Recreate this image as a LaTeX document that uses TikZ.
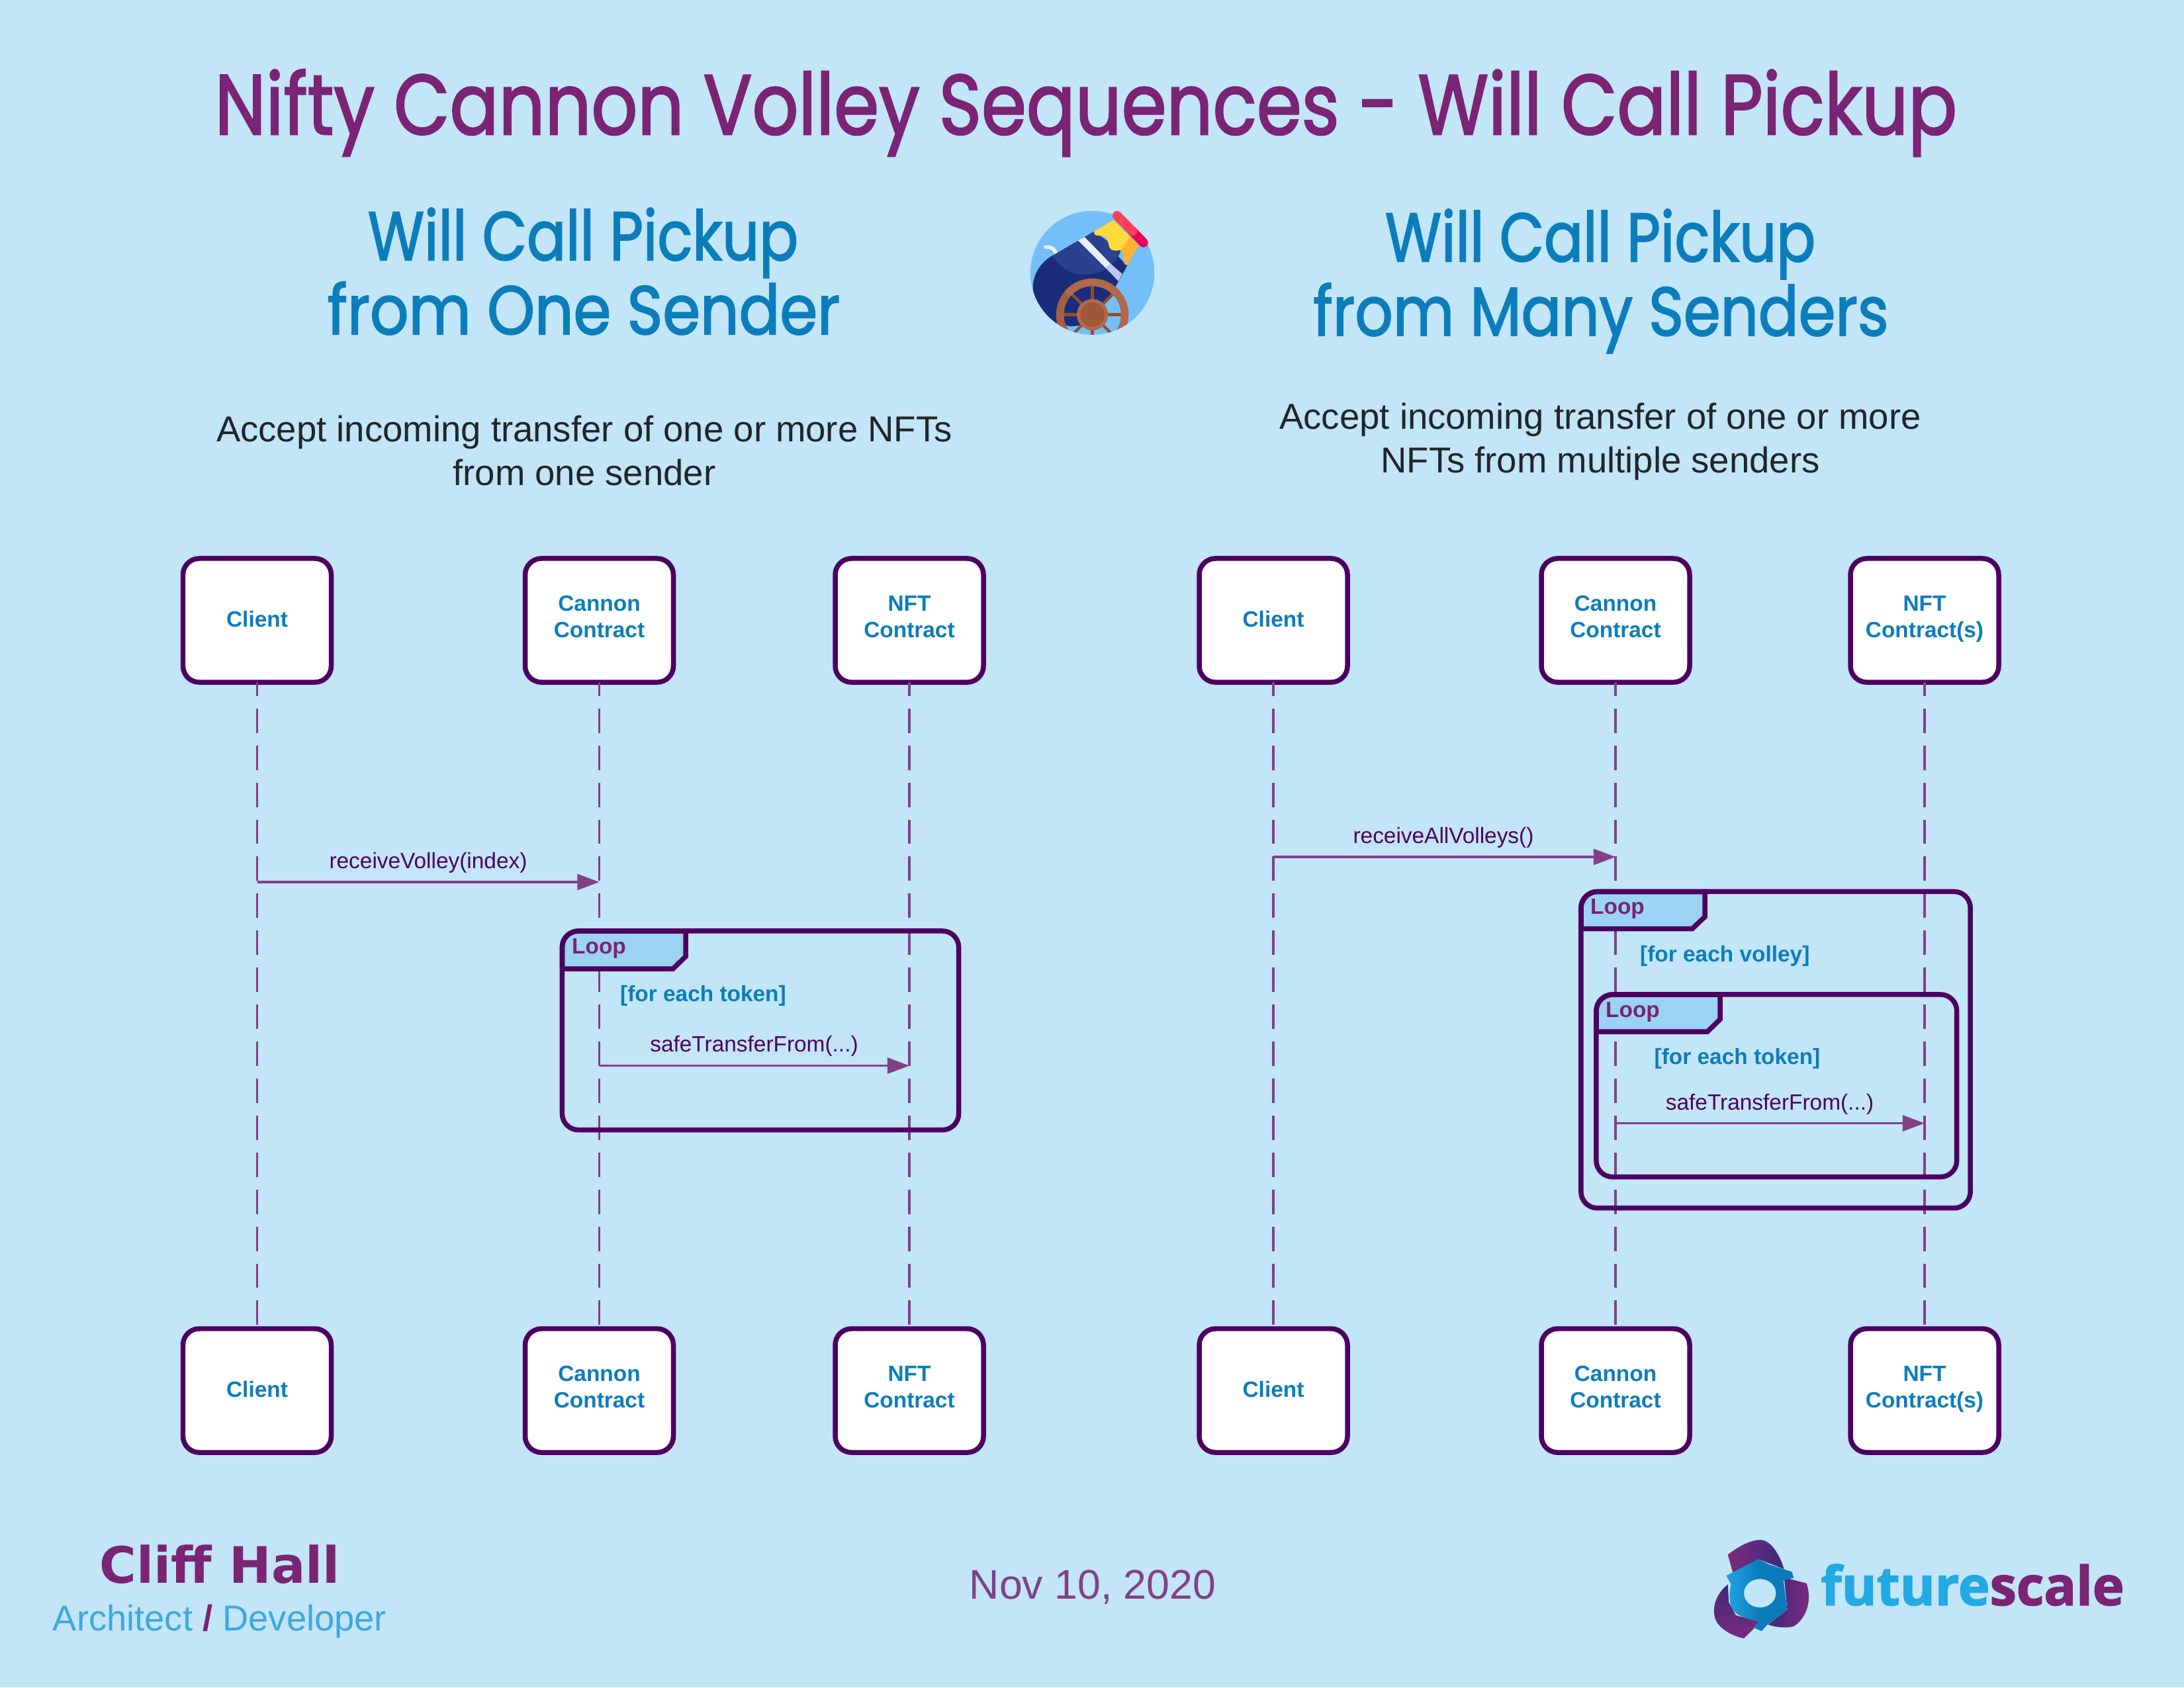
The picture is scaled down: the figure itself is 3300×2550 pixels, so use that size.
\documentclass[tikz,border=0pt]{standalone}
\usepackage{fontspec}
\setmainfont{Liberation Sans}
\newfontfamily\titlefont[FakeBold=2]{Poppins}
\newfontfamily\cliff{DejaVu Sans}
\newfontfamily\fsfont[FakeBold=2]{Open Sans}
\usetikzlibrary{arrows.meta,calc}
\definecolor{bg}{HTML}{C2E5F7}
\definecolor{dark}{HTML}{4D0060}
\definecolor{plum}{HTML}{7B2374}
\definecolor{lifec}{HTML}{824087}
\definecolor{tblue}{HTML}{0C7DBB}
\definecolor{tabc}{HTML}{9AD3F4}
\definecolor{sky}{HTML}{3EA8E0}
\definecolor{fsb}{HTML}{23A9E3}
\definecolor{ink}{HTML}{212529}
\newcommand{\fitw}[2]{\resizebox{#1}{\height}{#2}}
\newcommand{\oneline}[1]{\makebox[0pt]{\raisebox{-2.7pt}[0pt][0pt]{#1}}}
\newcommand{\twoline}[2]{\makebox[0pt]{\raisebox{4.13pt}[0pt][0pt]{#1}}\makebox[0pt]{\raisebox{-7.25pt}[0pt][0pt]{#2}}}
\tikzset{
  txt/.style={anchor=base,inner sep=0pt,outer sep=0pt},
  actor/.style={draw=dark,fill=white,line width=2.13pt,rounded corners=7pt,minimum width=63.7pt,minimum height=53.2pt,inner sep=0pt,outer sep=0pt,text=tblue,font=\fontsize{9.5}{11.4}\selectfont\bfseries},
  lifeline/.style={draw=lifec,line width=1.1pt,dash pattern=on 10.5pt off 5.4pt,dash phase=4.6pt},
  msg/.style={draw=lifec,line width=0.95pt,-{Triangle[length=9.4pt,width=6.8pt,fill=lifec]}},
  msgtext/.style={txt,text=dark,font=\fontsize{9.5}{11.4}\selectfont},
  looptext/.style={anchor=base west,inner sep=0pt,text=plum,font=\fontsize{9.5}{11.4}\selectfont\bfseries},
  guardtext/.style={anchor=base west,inner sep=0pt,text=tblue,font=\fontsize{9.5}{11.4}\selectfont\bfseries},
  tabshape/.style={draw=dark,fill=tabc,line width=2.13pt,line join=miter},
  loopframe/.style={draw=dark,line width=2.13pt,rounded corners=7pt,inner sep=0pt,outer sep=0pt},
  desc/.style={txt,text=ink,font=\fontsize{15.5}{19}\selectfont},
}
\begin{document}
\begin{tikzpicture}[x=0.01cm,y=-0.01cm]
\useasboundingbox (0,0) rectangle (3300,2550);
\fill[bg] (0,0) rectangle (3300,2550);

% titles
\node[txt,text=plum] (title) at (1641,203) {\fitw{2631\dimexpr 0.2845pt\relax}{\titlefont\fontsize{36.5}{40}\selectfont Nifty Cannon Volley Sequences - Will Call Pickup}};
\node[txt,text=tblue] (hl1) at (881,393) {\fitw{650\dimexpr 0.2845pt\relax}{\titlefont\fontsize{29.5}{34}\selectfont Will Call Pickup}};
\node[txt,text=tblue] (hl2) at (882,505) {\fitw{774\dimexpr 0.2845pt\relax}{\titlefont\fontsize{29.5}{34}\selectfont from One Sender}};
\node[txt,text=tblue] (hr1) at (2418,395) {\fitw{650\dimexpr 0.2845pt\relax}{\titlefont\fontsize{29.5}{34}\selectfont Will Call Pickup}};
\node[txt,text=tblue] (hr2) at (2419,507) {\fitw{869\dimexpr 0.2845pt\relax}{\titlefont\fontsize{29.5}{34}\selectfont from Many Senders}};

\node[desc] (dl1) at (883,667) {Accept incoming transfer of one or more NFTs};
\node[desc] (dl2) at (883,733) {from one sender};
\node[desc] (dr1) at (2418,648) {Accept incoming transfer of one or more};
\node[desc] (dr2) at (2418,714) {NFTs from multiple senders};

% cannon icon
\begin{scope}[shift={(14.8cm,-2.8cm)},x=0.003333cm,y=-0.003333cm]
  \definecolor{cc}{HTML}{73C0F8}
  \definecolor{cb}{HTML}{1B2D7A}
  \definecolor{cl}{HTML}{2A418D}
  \definecolor{cw1}{HTML}{E9EFFF}
  \definecolor{cp}{HTML}{BCC8F2}
  \definecolor{cy}{HTML}{FFDA3B}
  \definecolor{co}{HTML}{FFB133}
  \definecolor{cr}{HTML}{EA0055}
  \definecolor{cs}{HTML}{FF4058}
  \definecolor{cw}{HTML}{B0694A}
  \definecolor{cd}{HTML}{A5603F}
  \definecolor{csp}{HTML}{944D30}
  \definecolor{chb}{HTML}{9E5837}
  \fill[cc] (510,397) circle[radius=281*0.0948pt];
  \draw[draw=cw1,line width=1.6pt,line cap=round] (298,280) .. controls (325,278) and (340,290) .. (345,312);
  \begin{scope}
    \clip (510,397) circle[radius=281*0.0948pt];
    \fill[cb] (330,318) -- (517,210) -- (668,365) -- (615,460) -- (530,590) .. controls (480,635) and (440,640) .. (410,640) -- (345,625) .. controls (280,575) and (250,530) .. (240,470) .. controls (238,400) and (280,345) .. (330,318) -- cycle;
  \end{scope}
  \fill[cl] (330,318) .. controls (365,380) and (420,405) .. (475,405) .. controls (550,405) and (615,365) .. (640,295) -- (517,210) -- cycle;
  \fill[cw1] (445,250) -- (475,235) -- (592,355) -- (570,375) -- cycle;
  \fill[cp] (570,375) -- (592,355) -- (645,402) -- (628,435) -- cycle;
  \fill[co] (672,225) -- (722,270) -- (668,360) .. controls (655,365) and (650,350) .. (652,330) .. controls (655,315) and (645,300) .. (635,295) -- cycle;
  \fill[cy] (517,210) -- (605,157) -- (680,232) -- (640,293) .. controls (620,298) and (590,300) .. (585,275) .. controls (580,240) and (565,225) .. (545,228) .. controls (525,232) and (515,220) .. (517,210) -- cycle;
  \draw[cr,line width=3.98pt,line cap=round] (690,206) -- (742,260);
  \draw[cs,line width=3.98pt,line cap=round] (622,137) -- (692,208);
  \begin{scope}
    \clip (510,397) circle[radius=281*0.0948pt];
    \foreach \a in {0,45,...,315}{
      \draw[csp,line width=1.2pt] (510,587) -- ({510+135*cos(\a)},{587+135*sin(\a)});
    }
    \draw[cd,line width=3.3pt] plot[domain=90:225,samples=25] ({510+147*cos(\x)},{587+147*sin(\x)});
    \draw[cw,line width=3.3pt,line cap=round] plot[domain=225:450,samples=50] ({510+147*cos(\x)},{587+147*sin(\x)});
    \fill[cw] (510,587) circle[radius=71*0.0948pt];
    \fill[chb] (510,587) circle[radius=55*0.0948pt];
  \end{scope}
\end{scope}

% actors
\node[actor] (a1) at (388.5,937.5) {\oneline{Client}};
\node[actor] (b1) at (905.5,937.5) {\twoline{Cannon}{Contract}};
\node[actor] (c1) at (1374,937.5) {\twoline{NFT}{Contract}};
\node[actor] (d1) at (1924,937.5) {\oneline{Client}};
\node[actor] (e1) at (2441,937.5) {\twoline{Cannon}{Contract}};
\node[actor] (f1) at (2908,937.5) {\twoline{NFT}{Contract(s)}};
\node[actor] (a2) at (388.5,2101.5) {\oneline{Client}};
\node[actor] (b2) at (905.5,2101.5) {\twoline{Cannon}{Contract}};
\node[actor] (c2) at (1374,2101.5) {\twoline{NFT}{Contract}};
\node[actor] (d2) at (1924,2101.5) {\oneline{Client}};
\node[actor] (e2) at (2441,2101.5) {\twoline{Cannon}{Contract}};
\node[actor] (f2) at (2908,2101.5) {\twoline{NFT}{Contract(s)}};

% lifelines
\foreach \n in {a,b,c,d,e,f}{
  \draw[lifeline] (\n1.south) -- (\n2.north);
}

% messages
\coordinate (m1s) at (a1 |- 0,1333);
\coordinate (m1e) at (b1 |- 0,1333);
\coordinate (m2s) at (b1 |- 0,1610.5);
\coordinate (m2e) at (c1 |- 0,1610.5);
\coordinate (m3s) at (d1 |- 0,1295);
\coordinate (m3e) at (e1 |- 0,1295);
\coordinate (m4s) at (e1 |- 0,1697.5);
\coordinate (m4e) at (f1 |- 0,1697.5);
\draw[msg] (m1s) -- (m1e);
\draw[msg] (m3s) -- (m3e);
\node[msgtext] (t1) at (647,1312) {receiveVolley(index)};
\node[msgtext] (t3) at (2181,1274) {receiveAllVolleys()};

% loop 1
\path[tabshape] (849.5,1464) -- (849.5,1431) .. controls (849.5,1417) and (861,1407) .. (875,1407) -- (1036,1407) -- (1036,1445.5) -- (1017,1464) -- cycle;
\node[loopframe,minimum width=170.4pt,minimum height=85.5pt] (loopA) at (1149,1557.25) {};
\node[looptext] (la) at (863.5,1441) {Loop};
\node[guardtext] (ga) at (936.5,1513) {[for each token]};
\draw[msg] (m2s) -- (m2e);
\node[msgtext] (t2) at (1139.5,1589) {safeTransferFrom(...)};

% loop 2 outer
\path[tabshape] (2389,1403.5) -- (2389,1372.5) .. controls (2389,1358.5) and (2400.5,1347.5) .. (2414.5,1347.5) -- (2576,1347.5) -- (2576,1385.5) -- (2557,1403.5) -- cycle;
\node[loopframe,minimum width=167.3pt,minimum height=136pt] (loopB) at (2683,1586.5) {};
\node[looptext] (lb) at (2402.5,1381) {Loop};
\node[guardtext] (gb) at (2477.5,1453) {[for each volley]};

% loop 2 inner
\path[tabshape] (2412,1559) -- (2412,1528) .. controls (2412,1514) and (2423.5,1503) .. (2437.5,1503) -- (2599,1503) -- (2599,1540.5) -- (2580,1559) -- cycle;
\node[loopframe,minimum width=154.9pt,minimum height=78.4pt] (loopC) at (2684.25,1640.75) {};
\node[looptext] (lc) at (2425.5,1537) {Loop};
\node[guardtext] (gc) at (2499,1608.5) {[for each token]};
\draw[msg] (m4s) -- (m4e);
\node[msgtext] (t4) at (2674,1677.5) {safeTransferFrom(...)};

% footer
\node[txt,text=plum] (cl) at (332,2392) {\cliff\bfseries\fontsize{21.6}{26}\selectfont Cliff Hall};
\node[txt,text=sky] (ar) at (332,2464.5) {\fontsize{15.45}{18}\selectfont Architect {\bfseries\color{plum}/} Developer};
\node[txt,text=lifec] (dt) at (1651,2416) {\fontsize{17.8}{21}\selectfont Nov 10, 2020};

% futurescale logo
\node[anchor=base west,inner sep=0pt] (fs) at (2750.6,2425.7) {\fitw{458\dimexpr 0.2845pt\relax}{\fsfont\bfseries\fontsize{23}{27}\selectfont\textcolor{fsb}{future}\textcolor{plum}{scale}}};
\begin{scope}[shift={(25cm,-22.8cm)},x=0.004847cm,y=-0.003333cm]
  \definecolor{p1}{HTML}{7B2A7C}
  \definecolor{p2}{HTML}{3F2A7C}
  \definecolor{b1c}{HTML}{22A5E2}
  \definecolor{b2c}{HTML}{0A7BBB}
  \shade[left color=p1,right color=p2] (225,205) .. controls (260,165) and (300,135) .. (330,138) .. controls (365,145) and (390,220) .. (400,270) -- (320,225) -- (247,320) -- cycle;
  \shade[left color=p2,right color=p1] (400,308) -- (470,335) .. controls (490,420) and (465,500) .. (430,530) .. controls (405,540) and (375,535) .. (350,522) -- (410,455) -- cycle;
  \shade[top color=p2,bottom color=p1] (225,340) .. controls (190,380) and (170,450) .. (190,510) .. controls (205,545) and (240,575) .. (275,585) -- (327,510) -- (250,480) -- (228,420) -- cycle;
  \shade[even odd rule,left color=b1c,right color=b2c,middle color=b2c] (220,300) -- (320,225) -- (355,250) -- (425,283) -- (430,310) -- (398,322) -- (410,455) -- (350,520) -- (330,552) -- (305,535) -- (322,507) .. controls (270,490) and (240,480) .. (232,420) .. controls (228,390) and (232,360) .. (235,340) -- cycle
     (325,380) ellipse[x radius=50,y radius=65];
\end{scope}
\end{tikzpicture}
\end{document}
